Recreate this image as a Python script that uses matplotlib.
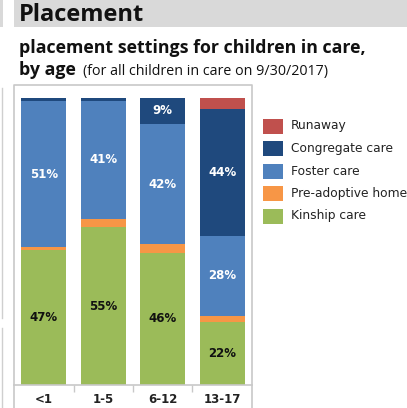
import matplotlib
matplotlib.use("Agg")
import matplotlib.pyplot as plt
from matplotlib.patches import Rectangle
from matplotlib.lines import Line2D
import numpy as np

ages = ["<1", "1-5", "6-12", "13-17"]
series = ["Kinship care", "Pre-adoptive home", "Foster care", "Congregate care", "Runaway"]
kinship = [47, 55, 46, 22]
pre_adoptive = [1, 3, 3, 2]
foster = [51, 41, 42, 28]
congregate = [1, 1, 9, 44]
runaway = [0, 0, 0, 4]
colors = ["#9BBB59", "#F79646", "#4F81BD", "#1F497D", "#C0504D"]
label_colors = ["#111111", "#111111", "white", "white", "white"]

W, H = 407, 408
fig = plt.figure(figsize=(W / 100, H / 100), dpi=100)

def fx(px):
    return px / W

def fy(py):
    return 1 - py / H

# header band
fig.patches.append(Rectangle((fx(14), fy(27)), fx(407 - 14), 27 / H, transform=fig.transFigure,
                             facecolor="#D9D9D9", edgecolor="none", zorder=0))
fig.patches.append(Rectangle((0, fy(27)), fx(3), 27 / H, transform=fig.transFigure,
                             facecolor="#D9D9D9", edgecolor="none", zorder=0))
fig.text(fx(19), fy(15), "Placement", fontsize=17, fontweight="bold", family="Open Sans",
         va="center", ha="left", color="#111111")

fig.text(fx(19), fy(48), "placement settings for children in care,", fontsize=12.8,
         fontweight="bold", family="Open Sans", va="center", ha="left", color="#111111")
t = fig.text(fx(19), fy(70), "by age", fontsize=12.8, fontweight="bold", family="Open Sans",
             va="center", ha="left", color="#111111")
fig.canvas.draw()
bb = t.get_window_extent()
fig.text(bb.x1 / W + fx(7), fy(71), "(for all children in care on 9/30/2017)", fontsize=10.3,
         family="Open Sans", va="center", ha="left", color="#111111")

# chart frame
frame_col = "#C8C8C8"
fig.lines.append(Line2D([fx(14), fx(14), fx(251.5), fx(251.5)], [0, fy(85), fy(85), 0],
                        transform=fig.transFigure, color=frame_col, lw=1.2))
# faint left panel edge
fig.lines.append(Line2D([fx(2), fx(2)], [fy(88), fy(318)], transform=fig.transFigure,
                        color="#CFCFCF", lw=1))
fig.lines.append(Line2D([fx(2), fx(2)], [fy(328), 0], transform=fig.transFigure,
                        color="#CFCFCF", lw=1))

ax = fig.add_axes([fx(14), 23 / H, 238 / W, 287 / H])
x = np.arange(len(ages))
stack = [kinship, pre_adoptive, foster, congregate, runaway]
bottom = np.zeros(len(ages))
for vals, col, lc in zip(stack, colors, label_colors):
    vals = np.array(vals, dtype=float)
    ax.bar(x, vals, bottom=bottom, width=0.75, color=col, edgecolor="none")
    for i, v in enumerate(vals):
        if v >= 5:
            ax.text(x[i], bottom[i] + v / 2, f"{v:.0f}%", ha="center", va="center",
                    fontsize=8.5, fontweight="bold", color=lc, family="DejaVu Sans")
    bottom += vals

ax.set_xlim(-0.5, 3.5)
ax.set_ylim(0, 100)
for s in ["top", "right", "left"]:
    ax.spines[s].set_visible(False)
ax.spines["bottom"].set_color(frame_col)
ax.spines["bottom"].set_linewidth(1.2)
ax.set_yticks([])
ax.set_xticks(x)
ax.set_xticklabels(ages, fontsize=8.5, fontweight="bold", color="#222222")
ax.tick_params(axis="x", which="major", length=0, pad=6)
ax.set_xticks([0.5, 1.5, 2.5], minor=True)
ax.tick_params(axis="x", which="minor", length=5, color=frame_col, width=1)
ax.patch.set_visible(False)

# legend
legend_items = list(zip(series, colors))[::-1]
for k, (name, col) in enumerate(legend_items):
    cy = 126 + k * 22.5
    fig.patches.append(Rectangle((fx(263), fy(cy + 7.5)), fx(20), 15 / H,
                                 transform=fig.transFigure, facecolor=col, edgecolor="none"))
    fig.text(fx(291), fy(cy), name, fontsize=8.8, va="center", ha="left",
             color="#222222", family="DejaVu Sans")

fig.savefig("out.png", dpi=100)
